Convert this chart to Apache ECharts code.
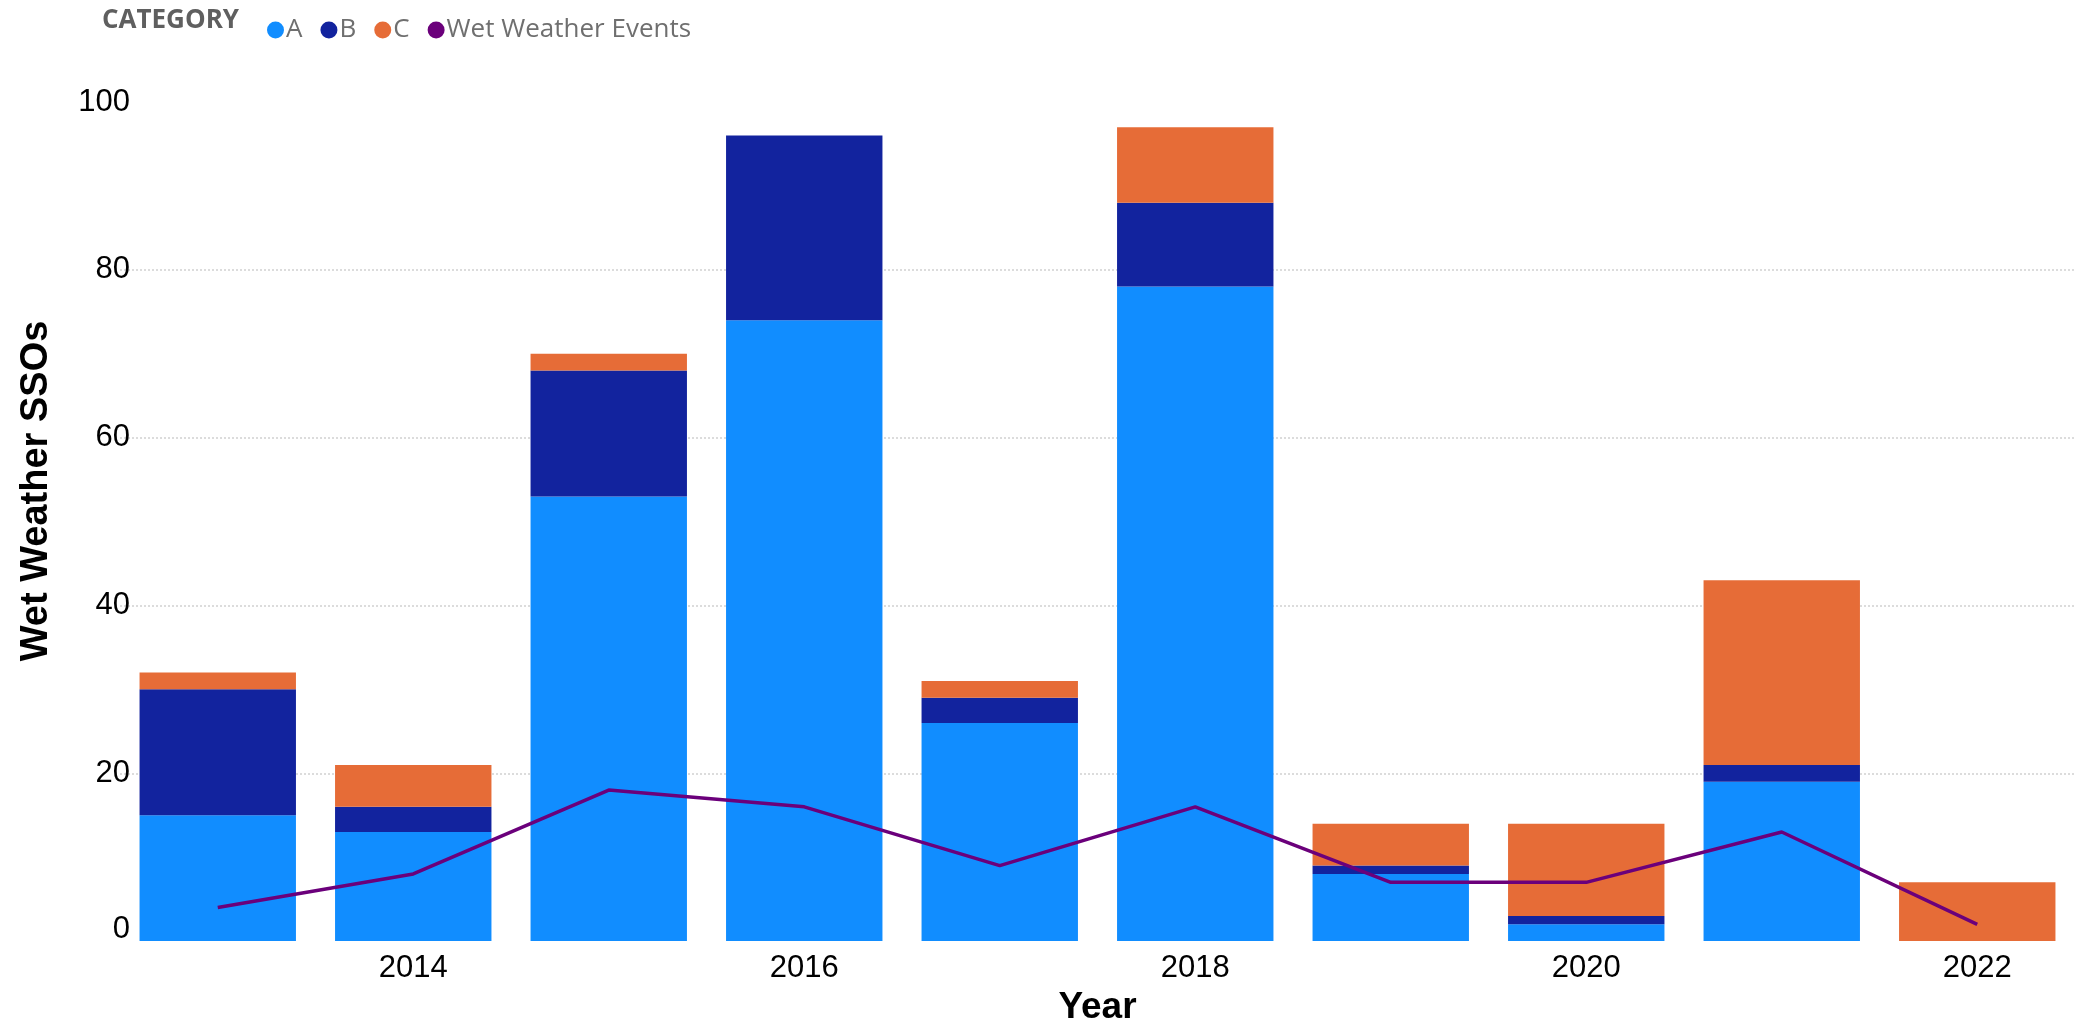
<!DOCTYPE html>
<html>
<head>
<meta charset="utf-8">
<script src="https://cdn.jsdelivr.net/npm/echarts@6/dist/echarts.min.js"></script>
<style>
html,body{margin:0;padding:0;background:#fff;}
#chart{width:2075px;height:1031px;}
</style>
</head>
<body>
<div id="chart"></div>
<script>
const years = ['2013','2014','2015','2016','2017','2018','2019','2020','2021','2022'];
const catA = [15, 13, 53, 74, 26, 78, 8, 2, 19, 0];
const catB = [15, 3, 15, 22, 3, 10, 1, 1, 2, 0];
const catC = [2, 5, 2, 0, 2, 9, 5, 11, 22, 7];
const wetEvents = [4, 8, 18, 16, 9, 16, 7, 7, 13, 2];
const yMin = 0, yMax = 100, yStep = 20;

const chart = echarts.init(document.getElementById('chart'));
const gridColors = ['rgba(0,0,0,0)', '#dcdcdc', '#dcdcdc', '#dcdcdc', '#dcdcdc', 'rgba(0,0,0,0)'];
chart.setOption({
  animation: false,
  color: ['#118DFF', '#12239E', '#E66C37', '#6B007B'],
  title: {
    text: 'CATEGORY',
    left: 97, top: 3,
    textStyle: {fontFamily: 'Open Sans', fontWeight: 'bold', fontSize: 26, color: '#5f5f5f'}
  },
  legend: {
    left: 262, top: 12,
    icon: 'circle', itemWidth: 17, itemHeight: 17, itemGap: 18,
    textStyle: {fontFamily: 'Open Sans', fontSize: 26, color: '#6f6f6f', padding: [0, 0, 0, -3]},
    data: ['A', 'B', 'C', 'Wet Weather Events']
  },
  grid: {left: 120, right: -14, top: 102, bottom: 78, containLabel: false},
  xAxis: {
    type: 'category',
    data: years,
    name: 'Year',
    nameLocation: 'middle',
    nameGap: 40,
    nameTextStyle: {fontFamily: 'Liberation Sans', fontWeight: 'bold', fontSize: 37, color: '#000'},
    axisLine: {show: false},
    axisTick: {show: false},
    axisLabel: {
      interval: function (i) { return i % 2 === 1; },
      margin: 12,
      fontFamily: 'Liberation Sans', fontSize: 31, color: '#000'
    }
  },
  yAxis: {
    type: 'value',
    min: yMin, max: yMax, interval: yStep,
    axisLine: {show: false},
    axisTick: {show: false},
    axisLabel: {
      margin: -10, fontFamily: 'Liberation Sans', fontSize: 31, color: '#000',
      formatter: function (v) { return v === 0 ? '{z|0}' : String(v); },
      rich: {z: {fontFamily: 'Liberation Sans', fontSize: 31, color: '#000', padding: [0, 0, 24, 0]}}
    },
    splitLine: {show: true, lineStyle: {type: 'dotted', width: 2, color: gridColors}}
  },
  graphic: [{
    type: 'text',
    x: 37, y: 491,
    rotation: Math.PI / 2,
    style: {
      text: 'Wet Weather SSOs',
      fontFamily: 'Liberation Sans', fontWeight: 'bold', fontSize: 38,
      fill: '#000', textAlign: 'center', textVerticalAlign: 'middle'
    }
  }],
  series: [
    {name: 'A', type: 'bar', stack: 'cat', data: catA, barCategoryGap: '20%', itemStyle: {color: '#118DFF'}},
    {name: 'B', type: 'bar', stack: 'cat', data: catB, itemStyle: {color: '#12239E'}},
    {name: 'C', type: 'bar', stack: 'cat', data: catC, itemStyle: {color: '#E66C37'}},
    {name: 'Wet Weather Events', type: 'line', data: wetEvents, showSymbol: false, symbol: 'none',
     z: 5, lineStyle: {color: '#6B007B', width: 3.5}, itemStyle: {color: '#6B007B'}}
  ]
});
</script>
</body>
</html>
